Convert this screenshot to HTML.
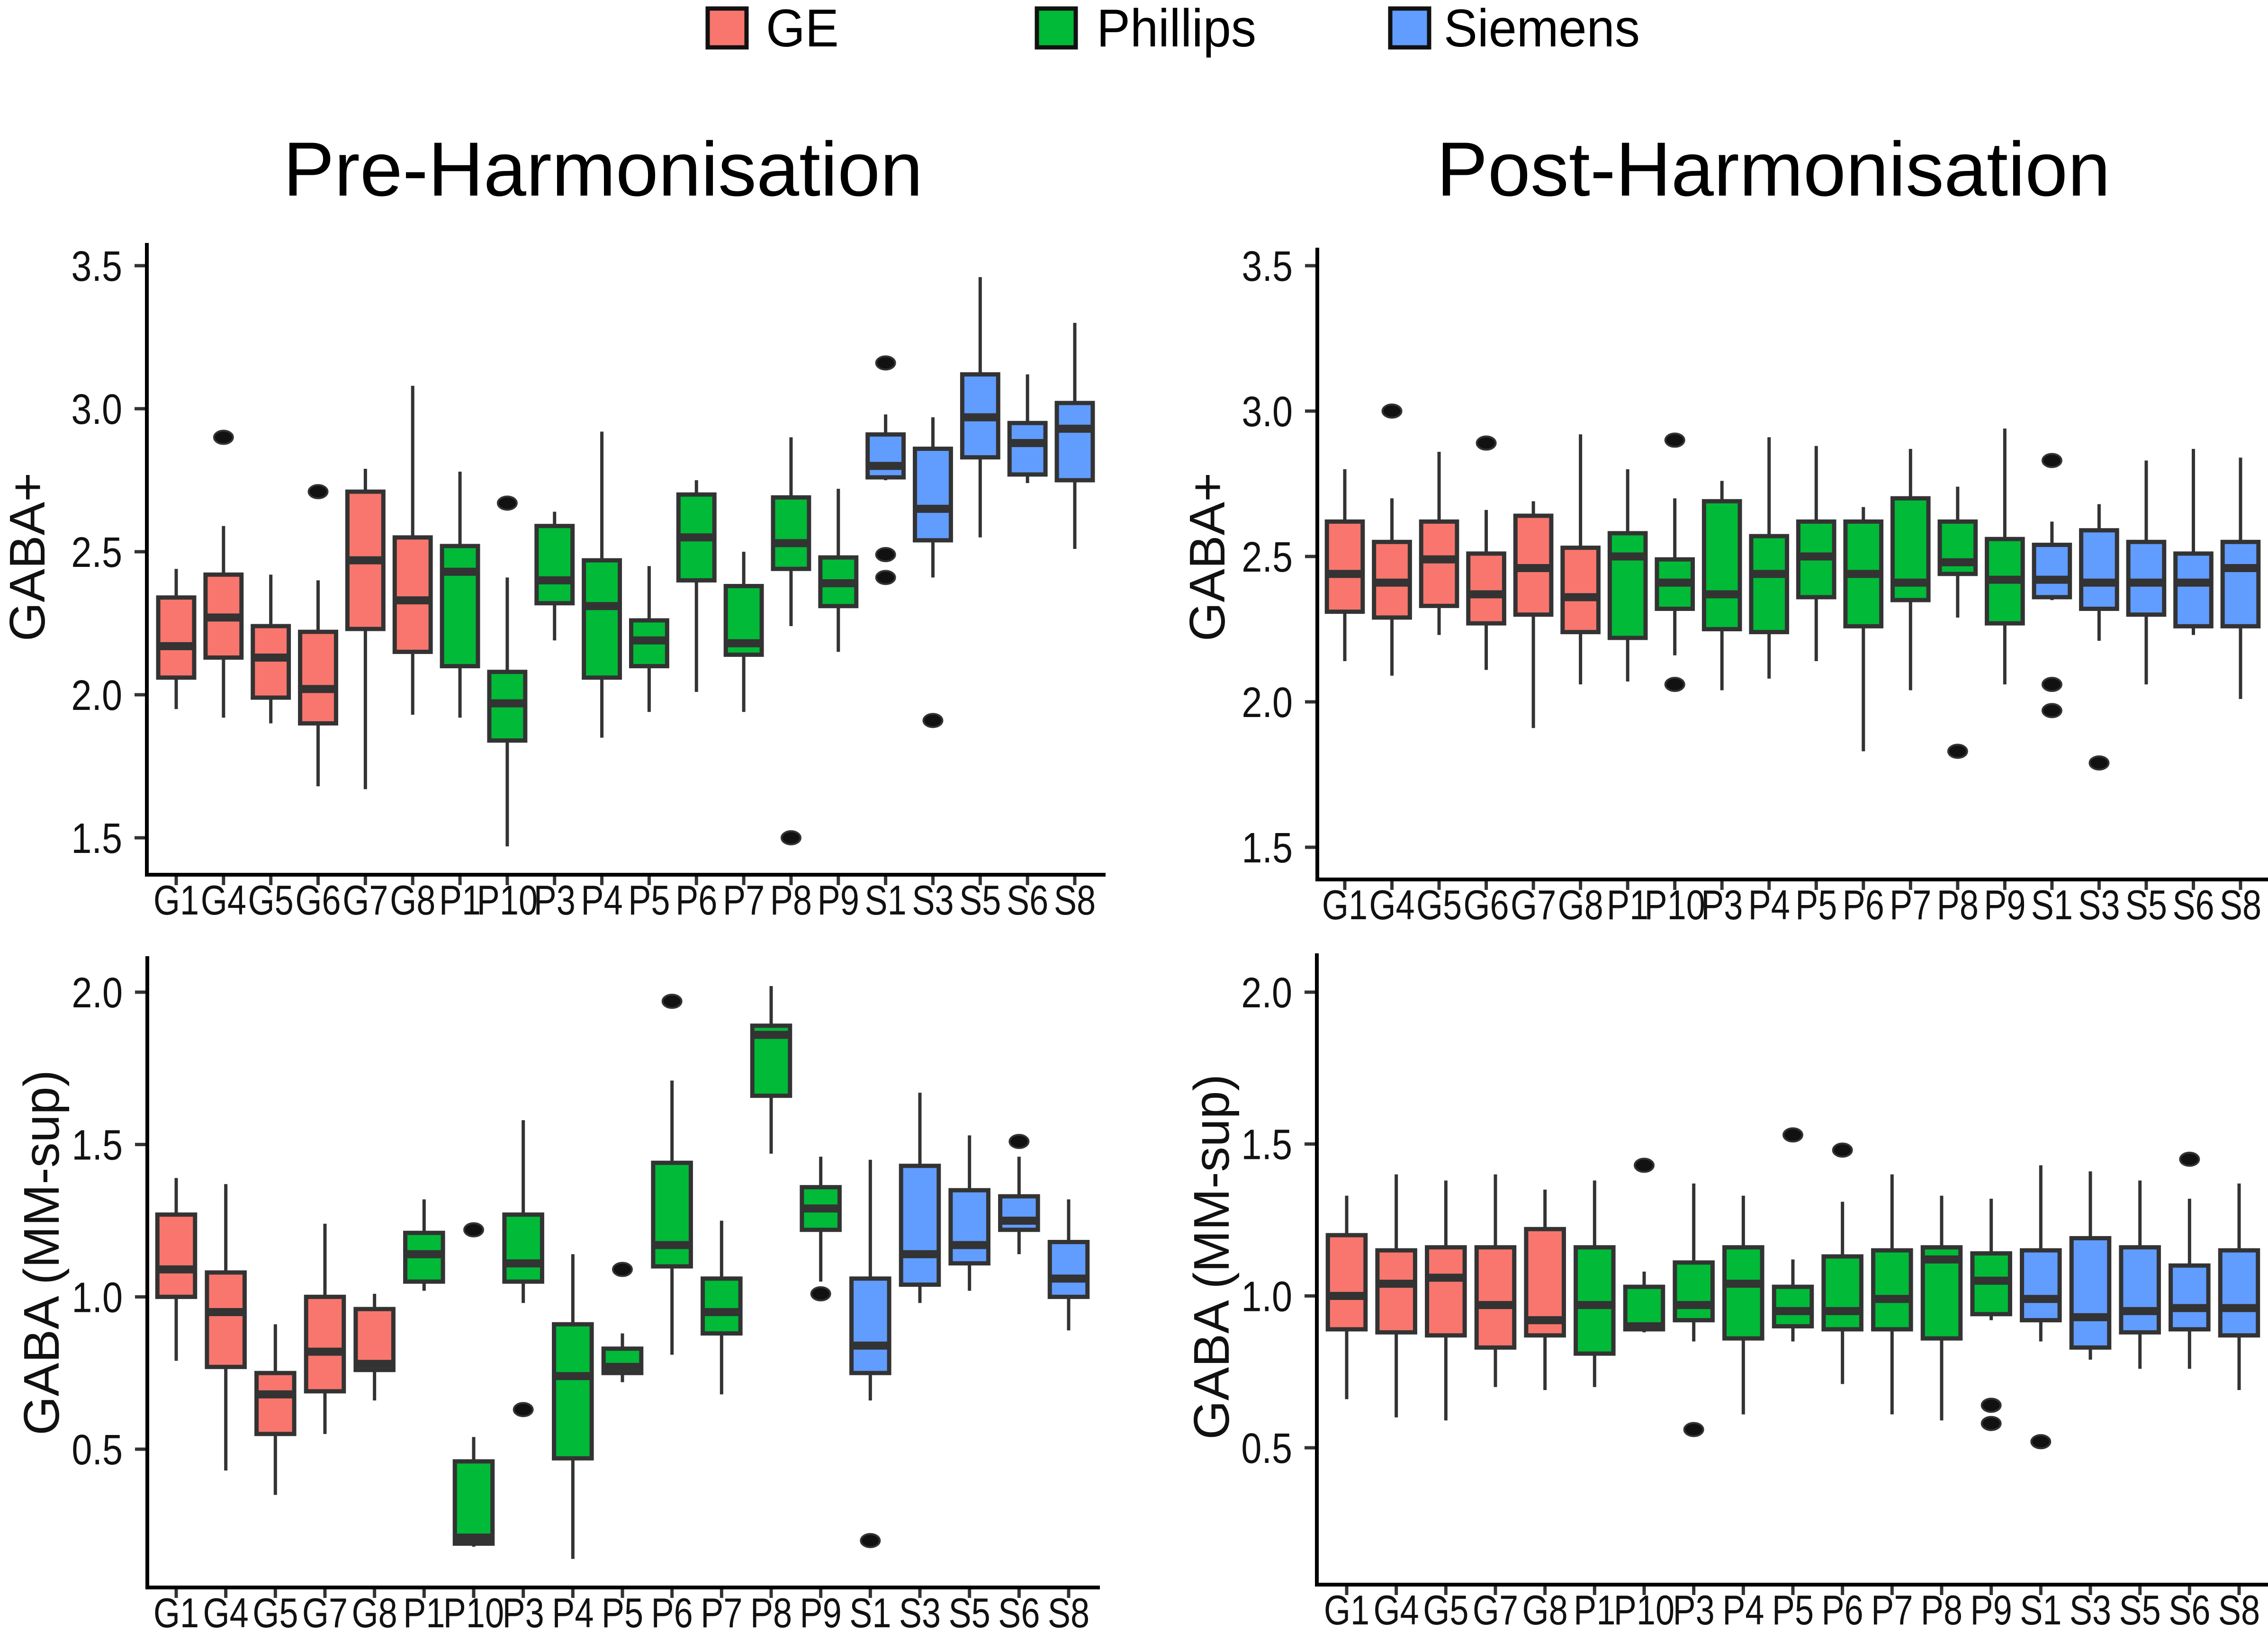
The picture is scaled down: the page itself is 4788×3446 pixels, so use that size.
<!DOCTYPE html>
<html><head><meta charset="utf-8">
<style>
html,body{margin:0;padding:0;background:#fff;}
svg{display:block;}
text{font-family:"Liberation Sans",sans-serif;}
</style></head>
<body>
<svg id="chart" width="4788" height="3446" viewBox="0 0 4788 3446" xmlns="http://www.w3.org/2000/svg">
<rect width="4788" height="3446" fill="#fff"/>
<g>
 <g><rect x="1494" y="18" width="82" height="82" fill="#F8766D" stroke="#111" stroke-width="9"/><text x="1617" y="98" font-size="112" transform="translate(1617,98) scale(0.95,1) translate(-1617,-98)">GE</text></g>
 <g><rect x="2189" y="18" width="82" height="82" fill="#00BA38" stroke="#111" stroke-width="9"/><text x="2315" y="98" font-size="112" transform="translate(2315,98) scale(0.95,1) translate(-2315,-98)">Phillips</text></g>
 <g><rect x="2935" y="18" width="82" height="82" fill="#619CFF" stroke="#111" stroke-width="9"/><text x="3048" y="98" font-size="112" transform="translate(3048,98) scale(0.95,1) translate(-3048,-98)">Siemens</text></g>
</g>
<text x="1273" y="413" font-size="162" text-anchor="middle">Pre-Harmonisation</text>
<text x="3744" y="413" font-size="162" text-anchor="middle">Post-Harmonisation</text>
</svg>
<script>
// ---- data ----
const catsTop = ["G1","G4","G5","G6","G7","G8","P1","P10","P3","P4","P5","P6","P7","P8","P9","S1","S3","S5","S6","S8"];
const catsBot = ["G1","G4","G5","G7","G8","P1","P10","P3","P4","P5","P6","P7","P8","P9","S1","S3","S5","S6","S8"];
const ticksTop = [1.5,2.0,2.5,3.0,3.5];
const ticksBot = [0.5,1.0,1.5,2.0];
const tickLabelsTop = ["1.5","2.0","2.5","3.0","3.5"];
const tickLabelsBot = ["0.5","1.0","1.5","2.0"];
// [whiskerLow, q1, median, q3, whiskerHigh]
const preGabaPlus = [[1.95,2.06,2.17,2.34,2.44],[1.92,2.13,2.27,2.42,2.59],[1.90,1.99,2.13,2.24,2.42],[1.68,1.90,2.02,2.22,2.40],[1.67,2.23,2.47,2.71,2.79],[1.93,2.15,2.33,2.55,3.08],[1.92,2.10,2.43,2.52,2.78],[1.47,1.84,1.97,2.08,2.41],[2.19,2.32,2.40,2.59,2.64],[1.85,2.06,2.31,2.47,2.92],[1.94,2.10,2.19,2.26,2.45],[2.01,2.40,2.55,2.70,2.75],[1.94,2.14,2.18,2.38,2.50],[2.24,2.44,2.53,2.69,2.90],[2.15,2.31,2.39,2.48,2.72],[2.75,2.76,2.80,2.91,2.98],[2.41,2.54,2.65,2.86,2.97],[2.55,2.83,2.97,3.12,3.46],[2.74,2.77,2.88,2.95,3.12],[2.51,2.75,2.93,3.02,3.30]];
const preGabaPlusOut = [[],[2.90],[],[2.71],[],[],[],[2.67],[],[],[],[],[],[1.50],[],[3.16,2.49,2.41],[1.91],[],[],[]];
const postGabaPlus = [[2.14,2.31,2.44,2.62,2.80],[2.09,2.29,2.41,2.55,2.70],[2.23,2.33,2.49,2.62,2.86],[2.11,2.27,2.37,2.51,2.66],[1.91,2.30,2.46,2.64,2.69],[2.06,2.24,2.36,2.53,2.92],[2.07,2.22,2.50,2.58,2.80],[2.16,2.32,2.41,2.49,2.70],[2.04,2.25,2.37,2.69,2.76],[2.08,2.24,2.44,2.57,2.91],[2.14,2.36,2.50,2.62,2.88],[1.83,2.26,2.44,2.62,2.67],[2.04,2.35,2.41,2.70,2.87],[2.29,2.44,2.48,2.62,2.74],[2.06,2.27,2.42,2.56,2.94],[2.35,2.36,2.42,2.54,2.62],[2.21,2.32,2.41,2.59,2.68],[2.06,2.30,2.41,2.55,2.83],[2.23,2.26,2.41,2.51,2.87],[2.01,2.26,2.46,2.55,2.84]];
const postGabaPlusOut = [[],[3.00],[],[2.89],[],[],[],[2.90,2.06],[],[],[],[],[],[1.83],[],[2.83,2.06,1.97],[1.79],[],[],[]];
const preMMsup = [[0.79,1.00,1.09,1.27,1.39],[0.43,0.77,0.95,1.08,1.37],[0.35,0.55,0.68,0.75,0.91],[0.55,0.69,0.82,1.00,1.24],[0.66,0.76,0.78,0.96,1.01],[1.02,1.05,1.14,1.21,1.32],[0.18,0.19,0.21,0.46,0.54],[0.98,1.05,1.11,1.27,1.58],[0.14,0.47,0.74,0.91,1.14],[0.72,0.75,0.77,0.83,0.88],[0.81,1.10,1.17,1.44,1.71],[0.68,0.88,0.95,1.06,1.25],[1.47,1.66,1.86,1.89,2.02],[1.05,1.22,1.29,1.36,1.46],[0.66,0.75,0.84,1.06,1.45],[0.98,1.04,1.14,1.43,1.67],[1.02,1.11,1.17,1.35,1.53],[1.14,1.22,1.25,1.33,1.46],[0.89,1.00,1.06,1.18,1.32]];
const preMMsupOut = [[],[],[],[],[],[],[1.22],[0.63],[],[1.09],[1.97],[],[],[1.01],[0.20],[],[],[1.51],[]];
const postMMsup = [[0.66,0.89,1.00,1.20,1.33],[0.60,0.88,1.04,1.15,1.40],[0.59,0.87,1.06,1.16,1.38],[0.70,0.83,0.97,1.16,1.40],[0.69,0.87,0.92,1.22,1.35],[0.70,0.81,0.97,1.16,1.38],[0.88,0.89,0.90,1.03,1.08],[0.85,0.92,0.97,1.11,1.37],[0.61,0.86,1.04,1.16,1.33],[0.85,0.90,0.95,1.03,1.12],[0.71,0.89,0.95,1.13,1.31],[0.61,0.89,0.99,1.15,1.40],[0.59,0.86,1.12,1.16,1.33],[0.92,0.94,1.05,1.14,1.32],[0.85,0.92,0.99,1.15,1.43],[0.79,0.83,0.93,1.19,1.41],[0.76,0.88,0.95,1.16,1.38],[0.76,0.89,0.96,1.10,1.32],[0.69,0.87,0.96,1.15,1.37]];
const postMMsupOut = [[],[],[],[],[],[],[1.43],[0.56],[],[1.53],[1.48],[],[],[0.64,0.58],[0.52],[],[],[1.45],[]];

const colors = {G:"#F8766D",P:"#00BA38",S:"#619CFF"};
const NS = "http://www.w3.org/2000/svg";
const svg = document.getElementById("chart");
function mk(tag, attrs, parent){const e=document.createElementNS(NS,tag);for(const k in attrs)e.setAttribute(k,attrs[k]);(parent||svg).appendChild(e);return e;}

const panels = [
 {name:"pre-gaba-plus", cats:catsTop, data:preGabaPlus, out:preGabaPlusOut, ticks:ticksTop, tl:tickLabelsTop, ax:310, by:1847, top:513, right:2334, v0:1.5, y0:1769, v1:3.5, y1:561, x0:372, x1:2269, title:"GABA+", tx:58, ty:1176},
 {name:"post-gaba-plus", cats:catsTop, data:postGabaPlus, out:postGabaPlusOut, ticks:ticksTop, tl:tickLabelsTop, ax:2781, by:1857, top:523, right:4788, v0:1.5, y0:1789, v1:3.5, y1:561, x0:2839, x1:4730, title:"GABA+", tx:2549, ty:1176},
 {name:"pre-gaba-mmsup", cats:catsBot, data:preMMsup, out:preMMsupOut, ticks:ticksBot, tl:tickLabelsBot, ax:311, by:3352, top:2019, right:2322, v0:0.5, y0:3060, v1:2.0, y1:2095, x0:372, x1:2256, title:"GABA (MM-sup)", tx:88, ty:2645},
 {name:"post-gaba-mmsup", cats:catsBot, data:postMMsup, out:postMMsupOut, ticks:ticksBot, tl:tickLabelsBot, ax:2780, by:3346, top:2013, right:4788, v0:0.5, y0:3057, v1:2.0, y1:2095, x0:2843, x1:4727, title:"GABA (MM-sup)", tx:2558, ty:2654}
];

panels.forEach(p=>{
 const g = mk("g",{});
 
 
 const yS = v => p.y0 + (v-p.v0)*(p.y1-p.y0)/(p.v1-p.v0);
 const step = (p.x1-p.x0)/(p.cats.length-1);
 const xS = i => p.x0 + i*step;
 const bw = step*0.76;
 p.ticks.forEach((t,i)=>{
  const y=yS(t);
  const tk = mk("line",{x1:p.ax-26,x2:p.ax,y1:y,y2:y,stroke:"#333","stroke-width":7},g);
  
  
  const lx=p.ax-52, ly=y+32;
  const tx = mk("text",{x:lx,y:ly,"font-size":90,"text-anchor":"end",fill:"#111",transform:`translate(${lx},${ly}) scale(0.86,1) translate(${-lx},${-ly})`},g);
  tx.textContent = p.tl[i];
  
  
 });
 p.cats.forEach((c,i)=>{
  const d=p.data[i], x=xS(i);
  const bg = mk("g",{},g);
  
  
  mk("line",{x1:x,x2:x,y1:yS(d[0]),y2:yS(d[4]),stroke:"#333","stroke-width":7},bg);
  mk("rect",{x:x-bw/2,y:yS(d[3]),width:bw,height:yS(d[1])-yS(d[3]),fill:colors[c[0]],stroke:"#333","stroke-width":9},bg);
  mk("line",{x1:x-bw/2,x2:x+bw/2,y1:yS(d[2]),y2:yS(d[2]),stroke:"#333","stroke-width":17},bg);
  p.out[i].forEach(o=>{
   const e = mk("ellipse",{cx:x,cy:yS(o),rx:20,ry:14,fill:"#111",stroke:"#333","stroke-width":4},bg);
   
   
  });
  const xt = mk("line",{x1:x,x2:x,y1:p.by,y2:p.by+22,stroke:"#333","stroke-width":7},g);
  
  
  const ly=p.by+84;
  const lt = mk("text",{x:x,y:ly,"font-size":88,"text-anchor":"middle",fill:"#111",transform:`translate(${x},${ly}) scale(0.82,1) translate(${-x},${-ly})`},g);
  lt.textContent = c;
  
  
 });
 const ya = mk("line",{x1:p.ax,x2:p.ax,y1:p.top,y2:p.by+4,stroke:"#000","stroke-width":8},g);
 
 
 const xa = mk("line",{x1:p.ax-4,x2:p.right,y1:p.by,y2:p.by,stroke:"#000","stroke-width":8},g);
 
 
 const t = mk("text",{x:p.tx,y:p.ty,"font-size":106,"text-anchor":"middle","dominant-baseline":"central",fill:"#111",transform:`rotate(-90 ${p.tx} ${p.ty})`},g);
 t.textContent = p.title;
 
 
});
</script>
</body></html>
